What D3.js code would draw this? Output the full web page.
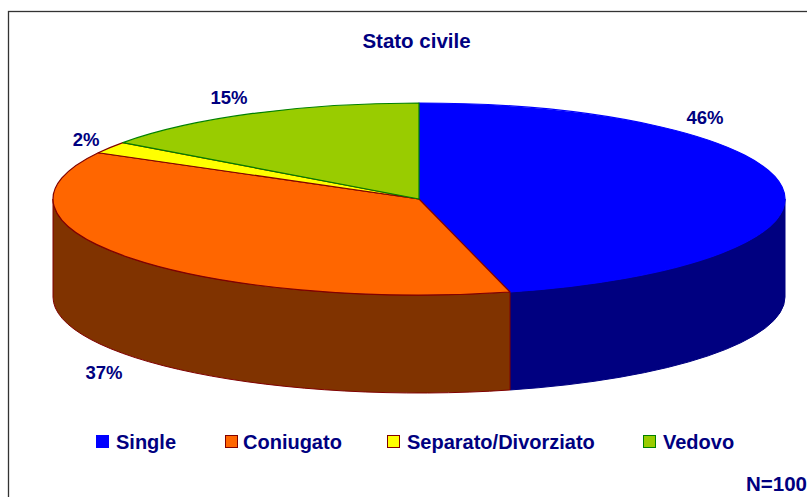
<!DOCTYPE html>
<html><head><meta charset="utf-8">
<script src="https://cdn.jsdelivr.net/npm/d3@7/dist/d3.min.js"></script>
<style>html,body{margin:0;padding:0;background:#fff}svg{display:block}text{font-family:"Liberation Sans",Arial,sans-serif;font-weight:bold;fill:#000080}</style>
</head><body><svg id="c" width="807" height="497"></svg>
<script>
const categories=["Single","Coniugato","Separato/Divorziato","Vedovo"];
const values=[46,37,2,15];
const topColors=["#0000ff","#ff6600","#ffff00","#99cc00"];
const sideColors=["#000080","#803300","#808000","#4d6600"];
const strokeColors=["#0000ff","#800000","#800000","#008000"];
const legendX=[96,225,387,643];
const legendTextX=[116,243,407,663];
const labelPos=[[705,118],[104,373],[86,140],[229,98]];

const svg=d3.select("#c");
const cx=419,cy=199,rx=366,ry=96,depth=98;
const sx=d3.scaleLinear().domain([-1,1]).range([cx-rx,cx+rx]);
const sy=d3.scaleLinear().domain([-1,1]).range([cy+ry,cy-ry]);
const pie=d3.pie().sort(null).value(d=>d)(values);
const px=a=>sx(Math.sin(a)),py=a=>sy(Math.cos(a));

svg.append("rect").attr("x",8.5).attr("y",11.5).attr("width",830).attr("height",520).attr("fill","#fff").attr("stroke","#333").attr("stroke-width",1.3);

const hp=Math.PI/2, tp=3*Math.PI/2;
pie.forEach((s,i)=>{
  const a0=Math.max(s.startAngle,hp),a1=Math.min(s.endAngle,tp);
  if(a1<=a0) return;
  const large=(a1-a0)>Math.PI?1:0;
  const d=`M${px(a0)},${py(a0)}L${px(a0)},${py(a0)+depth}`+
    `A${rx},${ry} 0 ${large} 1 ${px(a1)},${py(a1)+depth}L${px(a1)},${py(a1)}`+
    `A${rx},${ry} 0 ${large} 0 ${px(a0)},${py(a0)}Z`;
  svg.append("path").attr("d",d).attr("fill",sideColors[i]).attr("stroke",i===0?sideColors[i]:strokeColors[i]).attr("stroke-width",1).attr("stroke-linejoin","round");
});
pie.forEach((s,i)=>{
  const large=(s.endAngle-s.startAngle)>Math.PI?1:0;
  const d=`M${cx},${cy}L${px(s.startAngle)},${py(s.startAngle)}`+
    `A${rx},${ry} 0 ${large} 1 ${px(s.endAngle)},${py(s.endAngle)}Z`;
  svg.append("path").attr("d",d).attr("fill",topColors[i]).attr("stroke",strokeColors[i]).attr("stroke-width",1.2).attr("stroke-linejoin","round");
});

svg.append("text").attr("x",416.5).attr("y",48).attr("text-anchor","middle").attr("font-size",20.5).text("Stato civile");
values.forEach((v,i)=>{
  svg.append("text").attr("x",labelPos[i][0]).attr("y",labelPos[i][1]+6).attr("text-anchor","middle").attr("font-size",18.5).text(v+"%");
});
categories.forEach((c,i)=>{
  svg.append("rect").attr("x",legendX[i]+.5).attr("y",435.5).attr("width",12).attr("height",12).attr("fill",topColors[i]).attr("stroke",strokeColors[i]).attr("stroke-width",1);
  svg.append("text").attr("x",legendTextX[i]).attr("y",449).attr("font-size",20).text(c);
});
svg.append("text").attr("x",807).attr("y",491).attr("text-anchor","end").attr("font-size",20.5).text("N=100");
</script></body></html>
